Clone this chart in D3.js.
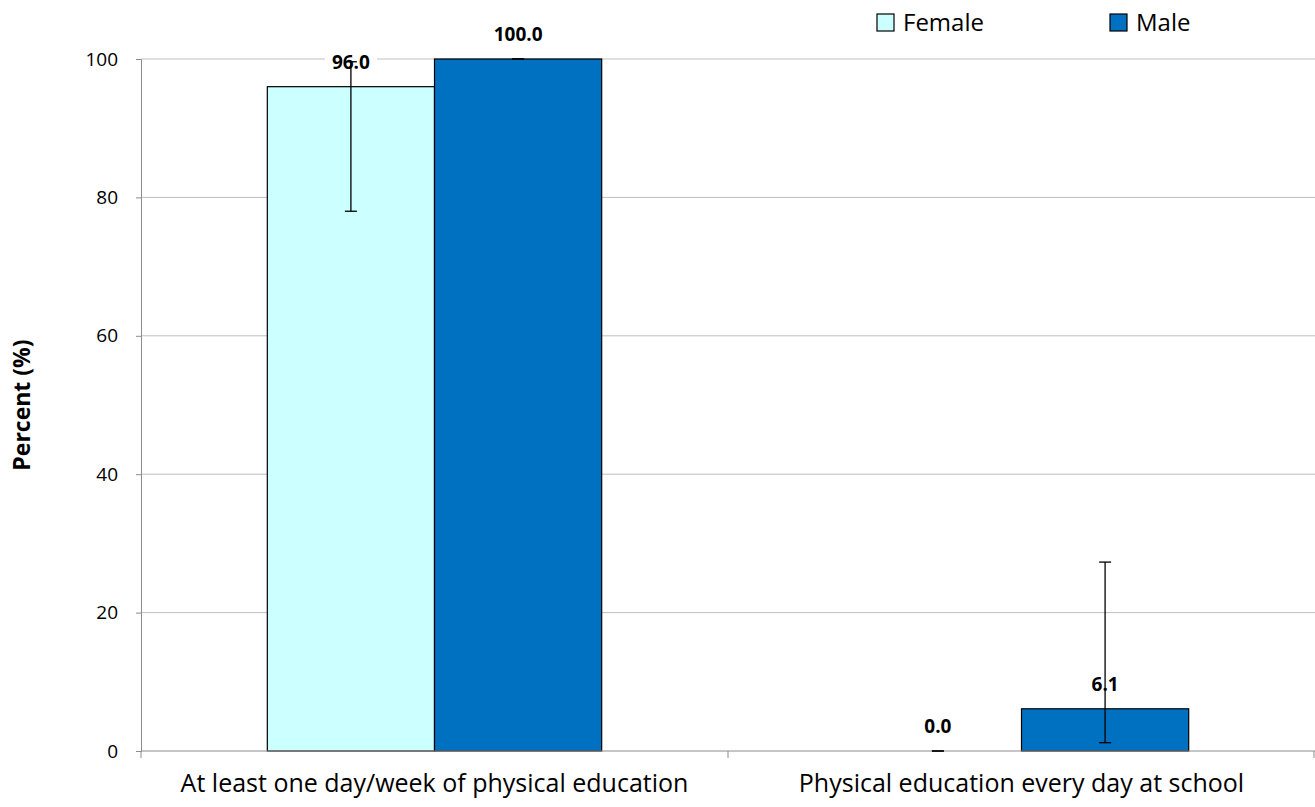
<!DOCTYPE html>
<html><head><meta charset="utf-8">
<script src="https://cdn.jsdelivr.net/npm/d3@7"></script>
<style>body{margin:0;background:#fff}svg{display:block}text{font-family:"Open Sans",sans-serif}</style>
</head><body><svg id="c" width="1315" height="807"></svg>
<script>
const categories = ["At least one day/week of physical education", "Physical education every day at school"];
const seriesNames = ["Female", "Male"];
const femaleValues = [96.0, 0.0];
const maleValues = [100.0, 6.1];
const femaleLow = [78.0, 0.0];
const femaleHigh = [99.6, 0.0];
const maleLow = [100.0, 1.2];
const maleHigh = [100.0, 27.3];
const yTicks = [0, 20, 40, 60, 80, 100];
const colors = ["#ccffff", "#0070c0"];

const svg = d3.select("#c");
const m = {l:141, r:0, t:59, b:56};
const W = 1315, H = 807;
const x0 = d3.scaleBand().domain(categories).range([m.l, W - m.r]).paddingInner(0).paddingOuter(0);
const x1 = d3.scaleBand().domain(seriesNames).range([0, x0.bandwidth()]).paddingInner(0).paddingOuter(0.7555);
const y = d3.scaleLinear().domain([0, 100]).range([H - m.b, m.t]);

svg.append("g").selectAll("line").data(yTicks.filter(d=>d>0)).join("line")
  .attr("x1", m.l).attr("x2", W).attr("y1", d=>y(d)).attr("y2", d=>y(d))
  .attr("stroke", "#bfbfbf").attr("stroke-width", 1);

const ya = svg.append("g").attr("transform", `translate(${m.l},0)`)
  .call(d3.axisLeft(y).tickValues(yTicks).tickSize(5).tickPadding(18));
ya.select(".domain").attr("stroke", "#8c8c8c");
ya.selectAll(".tick line").attr("stroke", "#8c8c8c");
ya.selectAll(".tick text").attr("font-size", 19).attr("fill", "#000").style("font-family","Open Sans");

const rows = categories.map((c,i)=>[
  {cat:c, s:"Female", v:femaleValues[i], lo:femaleLow[i], hi:femaleHigh[i], col:colors[0]},
  {cat:c, s:"Male", v:maleValues[i], lo:maleLow[i], hi:maleHigh[i], col:colors[1]}
]).flat();
const cxOf = d => x0(d.cat)+x1(d.s)+x1.bandwidth()/2;

const bgG = svg.append("g");
svg.append("g").selectAll("rect").data(rows.filter(d=>d.v>0)).join("rect")
  .attr("x", d=>x0(d.cat)+x1(d.s)).attr("width", x1.bandwidth())
  .attr("y", d=>y(d.v)).attr("height", d=>y(0)-y(d.v))
  .attr("fill", d=>d.col).attr("stroke", "#000").attr("stroke-width", 1.2);

svg.append("line").attr("x1", m.l).attr("x2", W).attr("y1", y(0)).attr("y2", y(0)).attr("stroke", "#8c8c8c");
const bounds = [m.l, x0(categories[1]), W-1];
svg.append("g").selectAll("line").data(bounds).join("line")
  .attr("x1", d=>d).attr("x2", d=>d).attr("y1", y(0)).attr("y2", y(0)+7).attr("stroke", "#8c8c8c");
svg.append("g").selectAll("text").data(categories).join("text")
  .attr("x", d=>x0(d)+x0.bandwidth()/2).attr("y", y(0)+41)
  .attr("text-anchor", "middle").attr("font-size", 25).attr("fill", "#000").text(d=>d);

const eb = svg.append("g").attr("stroke", "#000").attr("stroke-width", 1.3);
rows.forEach(d=>{
  const cx = cxOf(d);
  eb.append("line").attr("x1", cx).attr("x2", cx).attr("y1", y(d.lo)).attr("y2", y(d.hi));
  eb.append("line").attr("x1", cx-6).attr("x2", cx+6).attr("y1", y(d.lo)).attr("y2", y(d.lo));
  eb.append("line").attr("x1", cx-6).attr("x2", cx+6).attr("y1", y(d.hi)).attr("y2", y(d.hi));
});

const lg = svg.append("g");
rows.forEach(d=>{
  const t = lg.append("text").attr("x", cxOf(d)).attr("y", y(d.v)-18)
    .attr("text-anchor", "middle").attr("font-size", 19).attr("font-weight", "bold").attr("fill", "#000")
    .text(d.v.toFixed(1));
  const bb = t.node().getBBox();
  bgG.append("rect").attr("x", bb.x-7).attr("y", bb.y+2).attr("width", bb.width+14).attr("height", bb.height-4).attr("fill", "#fff");
});

svg.append("text").attr("transform", `translate(30,${(y(0)+y(100))/2}) rotate(-90)`)
  .attr("text-anchor", "middle").attr("font-size", 23).attr("font-weight", "bold").attr("fill", "#000").text("Percent (%)");

const legX = [877, 1110];
const leg = svg.append("g");
seriesNames.forEach((s,i)=>{
  leg.append("rect").attr("x", legX[i]).attr("y", 14).attr("width", 17).attr("height", 17)
    .attr("fill", colors[i]).attr("stroke", "#000").attr("stroke-width", 1.2);
  leg.append("text").attr("x", legX[i]+26).attr("y", 31).attr("font-size", 24).attr("fill", "#000").text(s);
});
</script></body></html>
